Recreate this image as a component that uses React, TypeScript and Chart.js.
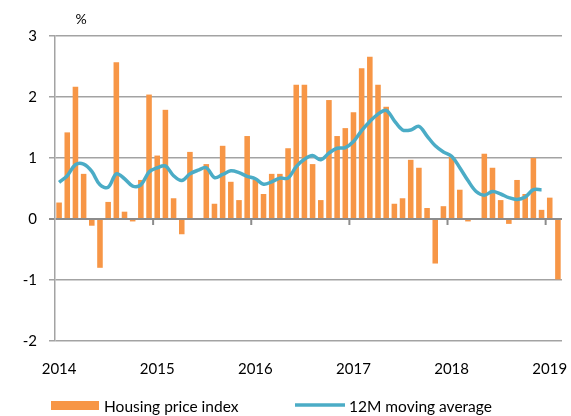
import React, { useEffect, useRef } from "react";
import { Chart, registerables } from "chart.js";

Chart.register(...registerables);

// Monthly data, Jan 2014 .. Feb 2019
const startYear = 2014;
const yearLabels = ["2014", "2015", "2016", "2017", "2018", "2019"];
const yTickValues = [-2, -1, 0, 1, 2, 3];

const housingPriceIndex = [
  0.27, 1.42, 2.17, 0.74, -0.11, -0.8, 0.28, 2.57, 0.12, -0.04, 0.64, 2.04,
  1.04, 1.79, 0.34, -0.25, 1.1, 0, 0.9, 0.25, 1.2, 0.61, 0.31, 1.36,
  0.64, 0.41, 0.74, 0.74, 1.16, 2.2, 2.2, 0.9, 0.31, 1.95, 1.36, 1.49,
  1.75, 2.47, 2.66, 2.2, 1.84, 0.25, 0.34, 0.97, 0.84, 0.18, -0.73, 0.21,
  1.02, 0.48, -0.04, 0, 1.07, 0.84, 0.31, -0.08, 0.64, 0.41, 1.0, 0.15,
  0.35, -0.99,
];

const movingAverage12M = [
  0.6, 0.71, 0.89, 0.9, 0.78, 0.56, 0.52, 0.74, 0.66, 0.54, 0.56, 0.77,
  0.84, 0.87, 0.71, 0.63, 0.74, 0.8, 0.84, 0.68, 0.73, 0.79, 0.76, 0.7,
  0.66, 0.57, 0.61, 0.67, 0.67, 0.86, 0.98, 1.04, 0.97, 1.08, 1.16, 1.17,
  1.27, 1.45, 1.6, 1.72, 1.78, 1.61, 1.46, 1.46, 1.52, 1.36, 1.2, 1.1,
  1.03, 0.84, 0.63, 0.45, 0.39, 0.45, 0.41, 0.35, 0.32, 0.36, 0.48, 0.48,
];

const seriesLabels = ["Housing price index", "12M moving average"];

const BAR_COLOR = "#F79646";
const LINE_COLOR = "#4BACC6";
const GRID_COLOR = "#a3a3a3";
const AXIS_COLOR = "#8c8c8c";
const FONT = "Lato, 'Open Sans', sans-serif";

export default function App() {
  const ref = useRef<HTMLCanvasElement>(null);

  useEffect(() => {
    if (!ref.current) return;
    const months = housingPriceIndex.length;

    const extras = {
      id: "extras",
      beforeDatasetsDraw(chart: any) {
        const { ctx } = chart;
        const xs = chart.scales.x;
        const ys = chart.scales.y;
        const y0 = ys.getPixelForValue(0);
        ctx.save();
        ctx.strokeStyle = AXIS_COLOR;
        ctx.lineWidth = 2;
        for (let k = 1; k < yearLabels.length; k++) {
          const px = xs.getPixelForValue(12 * k);
          ctx.beginPath();
          ctx.moveTo(px, y0);
          ctx.lineTo(px, y0 + 6);
          ctx.stroke();
        }
        ctx.restore();
      },
      afterDraw(chart: any) {
        const { ctx } = chart;
        ctx.save();
        // unit label
        ctx.font = `14px ${FONT}`;
        ctx.fillStyle = "#000";
        ctx.textAlign = "center";
        ctx.textBaseline = "middle";
        ctx.fillText("%", 81, 19);
        // legend
        ctx.font = `15.5px ${FONT}`;
        ctx.textAlign = "left";
        ctx.textBaseline = "alphabetic";
        ctx.fillStyle = BAR_COLOR;
        ctx.fillRect(51, 401, 48, 9);
        ctx.fillStyle = "#000";
        ctx.fillText(chart.data.datasets[1].label, 104, 412);
        ctx.strokeStyle = LINE_COLOR;
        ctx.lineWidth = 3.5;
        ctx.beginPath();
        ctx.moveTo(295, 405);
        ctx.lineTo(345, 405);
        ctx.stroke();
        ctx.fillText(chart.data.datasets[0].label, 349, 412);
        ctx.restore();
      },
    };

    const chart = new Chart(ref.current, {
      type: "bar",
      data: {
        datasets: [
          {
            type: "line",
            label: seriesLabels[1],
            data: movingAverage12M.map((v, i) => ({ x: i + 0.5, y: v })),
            borderColor: LINE_COLOR,
            backgroundColor: LINE_COLOR,
            borderWidth: 3.5,
            pointRadius: 0,
            tension: 0.35,
            order: 0,
          } as any,
          {
            type: "bar",
            label: seriesLabels[0],
            data: housingPriceIndex.map((v, i) => ({ x: i + 0.5, y: v })),
            backgroundColor: BAR_COLOR,
            borderWidth: 0,
            barPercentage: 0.68,
            categoryPercentage: 1,
            order: 1,
          },
        ],
      },
      options: {
        animation: false,
        responsive: true,
        maintainAspectRatio: false,
        layout: { padding: { top: 36, right: 9, left: 0, bottom: 0 } },
        plugins: {
          legend: { display: false },
          tooltip: { enabled: false },
        },
        scales: {
          x: {
            type: "linear",
            min: 0,
            max: months,
            offset: false,
            grid: { display: false, drawTicks: false },
            border: { display: false },
            afterBuildTicks(scale: any) {
              scale.ticks = yearLabels.map((_, k) => ({ value: 12 * k + 0.5 }));
            },
            afterFit(scale: any) {
              scale.height = 75;
              scale.paddingLeft = 0;
              scale.paddingRight = 0;
            },
            ticks: {
              autoSkip: false,
              maxRotation: 0,
              padding: 19,
              color: "#000",
              font: { family: FONT, size: 15 },
              callback: (v: any) => String(startYear + Math.floor(Number(v) / 12)),
            },
          },
          y: {
            min: yTickValues[0],
            max: yTickValues[yTickValues.length - 1],
            afterBuildTicks(scale: any) {
              scale.ticks = yTickValues.map((v) => ({ value: v }));
            },
            afterFit(scale: any) {
              scale.width = 55;
              scale.paddingTop = 0;
              scale.paddingBottom = 0;
            },
            grid: {
              color: (c: any) => (c.tick && c.tick.value === 0 ? AXIS_COLOR : GRID_COLOR),
              lineWidth: (c: any) => (c.tick && c.tick.value === 0 ? 2 : 1.5),
              tickLength: 6,
              drawTicks: true,
            },
            border: { display: true, color: GRID_COLOR, width: 1.5 },
            ticks: {
              padding: 12,
              color: "#000",
              font: { family: FONT, size: 15 },
              callback: (v: any) => String(v),
            },
          },
        },
      },
      plugins: [extras],
    });

    return () => chart.destroy();
  }, []);

  return (
    <div style={{ position: "fixed", left: 0, top: 0, width: 571, height: 416 }}>
      <canvas ref={ref} />
    </div>
  );
}
